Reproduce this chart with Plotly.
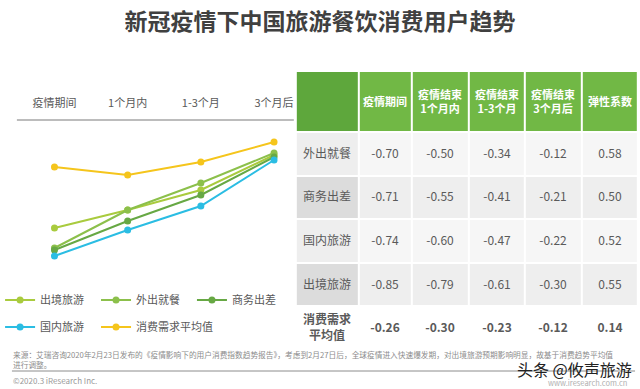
import plotly.graph_objects as go

# ---------------- data ----------------
periods = ["疫情期间", "1个月内", "1-3个月", "3个月后"]

# line chart index levels (schematic trend)
series_names = ["出境旅游", "外出就餐", "商务出差", "国内旅游", "消费需求平均值"]
outbound = [0.72, 0.90, 1.10, 1.45]
dining = [0.52, 0.90, 1.17, 1.47]
business = [0.50, 0.79, 1.05, 1.43]
domestic = [0.44, 0.70, 0.94, 1.40]
average = [1.33, 1.25, 1.38, 1.58]

# table
table_header = ["", "疫情期间", "疫情结束<br>1个月内", "疫情结束<br>1-3个月", "疫情结束<br>3个月后", "弹性系数"]
row_labels = ["外出就餐", "商务出差", "国内旅游", "出境旅游", "<b>消费需求<br>平均值</b>"]
col_during = ["-0.70", "-0.71", "-0.74", "-0.85", "<b>-0.26</b>"]
col_1m = ["-0.50", "-0.55", "-0.60", "-0.79", "<b>-0.30</b>"]
col_1_3m = ["-0.34", "-0.41", "-0.47", "-0.61", "<b>-0.23</b>"]
col_3m = ["-0.12", "-0.21", "-0.22", "-0.30", "<b>-0.12</b>"]
col_elastic = ["0.58", "0.50", "0.52", "0.55", "<b>0.14</b>"]

# ---------------- layout constants ----------------
FONT = "Noto Sans CJK SC"
W, H = 640, 389
TABLE_LEFT = 292
COL_WIDTHS = [63.5, 54, 57.5, 57, 57, 57]
TABLE_TOP = 71
HEADER_H = 61
ROW_H = 43.6


def px_x(p):
    return p / W


def px_y(p):
    return 1 - p / H


colors = ["#a9cb3e", "#8cc04b", "#67a844", "#2bbde3", "#f5c51c"]
values = [outbound, dining, business, domestic, average]
legend_ids = ["legend", "legend2", "legend3", "legend4", "legend5"]

fig = go.Figure()
for name, vals, col, lg in zip(series_names, values, colors, legend_ids):
    fig.add_trace(go.Scatter(
        x=periods, y=vals, name=name, mode="lines+markers",
        line=dict(color=col, width=2),
        marker=dict(color=col, size=7),
        legend=lg, xaxis="x", yaxis="y", hoverinfo="skip",
    ))

# ---------------- table drawn as heatmap bricks ----------------
col_edges = [TABLE_LEFT]
for w in COL_WIDTHS:
    col_edges.append(col_edges[-1] + w)
header_edges = [TABLE_TOP, TABLE_TOP + HEADER_H]
row_edges = [header_edges[1]]
for _ in row_labels:
    row_edges.append(row_edges[-1] + ROW_H)

body_cols = [row_labels, col_during, col_1m, col_1_3m, col_3m, col_elastic]
body_text = [[body_cols[c][r] for c in range(len(body_cols))] for r in range(len(row_labels))]
# shade levels: 0 white, 1 very light, 2 light, 3 grey
row_shade_first = [2, 3, 2, 3, 0]
row_shade_data = [1, 2, 1, 2, 0]
body_z = [[row_shade_first[r]] + [row_shade_data[r]] * (len(body_cols) - 1) for r in range(len(row_labels))]

fig.add_trace(go.Heatmap(
    x=col_edges, y=header_edges,
    z=[[1] + [0] * (len(table_header) - 1)],
    text=[[f"<b>{t}</b>" if t else "" for t in table_header]],
    texttemplate="%{text}",
    textfont=dict(family=FONT, size=11, color="white"),
    colorscale=[[0, "#71b845"], [1, "#5ea73c"]], zmin=0, zmax=1,
    showscale=False, xgap=2, ygap=2, hoverinfo="skip",
    xaxis="x2", yaxis="y2",
))
fig.add_trace(go.Heatmap(
    x=col_edges, y=row_edges,
    z=body_z, text=body_text, texttemplate="%{text}",
    textfont=dict(family=FONT, size=12, color="#5a5a5a"),
    colorscale=[[0, "#ffffff"], [1 / 3, "#f6f6f6"], [2 / 3, "#eeeeee"], [1, "#dcdcdc"]],
    zmin=0, zmax=3,
    showscale=False, xgap=2, ygap=2, hoverinfo="skip",
    xaxis="x2", yaxis="y2",
))

fig.update_layout(
    width=W, height=H,
    margin=dict(l=0, r=0, t=0, b=0),
    paper_bgcolor="white", plot_bgcolor="rgba(0,0,0,0)",
    font=dict(family=FONT, color="#595959"),
    showlegend=True,
    xaxis=dict(
        domain=[0, 0.5], type="category",
        range=[-48 / 74, -48 / 74 + 320 / 74],
        side="top", anchor="y", showgrid=False, zeroline=False, showline=False,
        ticks="", tickfont=dict(family=FONT, size=11, color="#595959"),
        ticklabelstandoff=10,
    ),
    yaxis=dict(
        domain=[px_y(285), px_y(120)], range=[0.15, 1.8],
        visible=False,
    ),
    xaxis2=dict(domain=[0, 1], range=[0, W], visible=False, anchor="y2"),
    yaxis2=dict(domain=[0, 1], range=[H, 0], visible=False, anchor="x2"),
    title=dict(
        text="<b>新冠疫情下中国旅游餐饮消费用户趋势</b>",
        x=0.5, xanchor="center", y=px_y(22), yanchor="middle",
        font=dict(family=FONT, size=23, color="#404040"),
    ),
)

leg_pos = [(-7, 300), (90, 300), (187, 300), (-7, 327), (90, 327)]
for lg, (lx, ly) in zip(legend_ids, leg_pos):
    fig.update_layout(**{lg: dict(
        x=px_x(lx), y=px_y(ly), xanchor="left", yanchor="middle",
        bgcolor="rgba(0,0,0,0)", orientation="h",
        font=dict(family=FONT, size=11, color="#595959"),
    )})

# separator under category labels
fig.add_shape(type="line", xref="paper", yref="paper",
              x0=px_x(10), x1=px_x(290), y0=px_y(120), y1=px_y(120),
              line=dict(color="#a6a6a6", width=1.5))
# footer rule
fig.add_shape(type="line", xref="paper", yref="paper",
              x0=px_x(5), x1=px_x(635), y0=px_y(371), y1=px_y(371),
              line=dict(color="#8c8c8c", width=1))

src = ("来源：艾瑞咨询2020年2月23日发布的《疫情影响下的用户消费指数趋势报告》，考虑到2月27日后，"
       "全球疫情进入快速爆发期，对出境旅游预期影响明显，故基于消费趋势平均值<br>进行调整。")
fig.add_annotation(text=src, xref="paper", yref="paper", x=px_x(4), y=px_y(359),
                   xanchor="left", yanchor="middle", align="left", showarrow=False,
                   font=dict(family=FONT, size=7.7, color="#8c8c8c"))
fig.add_annotation(text="©2020.3 iResearch Inc.", xref="paper", yref="paper", x=px_x(4), y=px_y(380),
                   xanchor="left", yanchor="middle", showarrow=False,
                   font=dict(family=FONT, size=8, color="#9a9a9a"))
fig.add_annotation(text="www.iresearch.com.cn", xref="paper", yref="paper", x=px_x(629), y=px_y(382),
                   xanchor="right", yanchor="middle", showarrow=False,
                   font=dict(family=FONT, size=7.5, color="#b0b0b0"))
fig.add_annotation(text="头条 @攸声旅游", xref="paper", yref="paper", x=px_x(634), y=px_y(369),
                   xanchor="right", yanchor="middle", showarrow=False,
                   font=dict(family=FONT, size=16, color="#222222"))

fig.write_html("out.html", config={"displayModeBar": False},
               post_script="document.body.style.margin='0';")
